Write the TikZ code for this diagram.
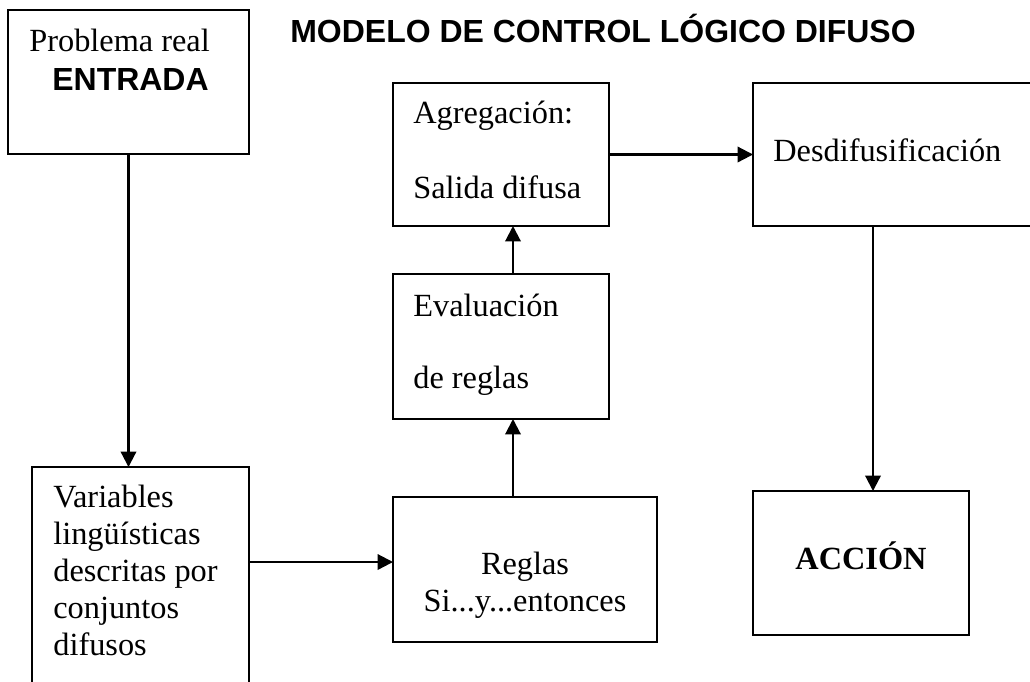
\documentclass[tikz,border=0pt]{standalone}
\usepackage{fontspec}
\setmainfont{Liberation Serif}
\setsansfont{Liberation Sans}
\usetikzlibrary{arrows.meta}

\tikzset{
    caja/.style={draw, line width=1.3pt, inner sep=0pt, outer sep=0pt},
    txt/.style={inner sep=0pt, font=\fontsize{18.4}{21}\selectfont},
    flecha/.style={line width=1.2pt, -{Triangle[length=8.8pt,width=8.8pt]}}
}

\begin{document}
\begin{tikzpicture}[x=0.02cm, y=-0.02cm]
                \useasboundingbox (0,0) rectangle (1030,681);
                \clip (0,0) rectangle (1030,681);

                \node[caja, minimum width=4.82cm, minimum height=2.88cm] (prob) at (128.5,82) {};
                \node[caja, minimum width=4.32cm, minimum height=2.86cm] (agre) at (501,154.5) {};
                \node[caja, minimum width=5.84cm, minimum height=2.86cm] (desd) at (899,154.5) {};
                \node[caja, minimum width=4.32cm, minimum height=2.90cm] (eval) at (501,346.5) {};
                \node[caja, minimum width=4.34cm, minimum height=4.66cm] (vari) at (140.5,583.5) {};
                \node[caja, minimum width=5.28cm, minimum height=2.90cm] (regl) at (525,569.5) {};
                \node[caja, minimum width=4.32cm, minimum height=2.88cm] (acci) at (861,563) {};

                \node[txt, anchor=base west, font=\fontsize{18.2}{21}\selectfont\sffamily\bfseries] (titulo) at (290,42) {MODELO DE CONTROL LÓGICO DIFUSO};

                \node[txt, anchor=base west] (prob1) at (29,51) {Problema real};
                \node[txt, anchor=base west, font=\fontsize{18.2}{21}\selectfont\sffamily\bfseries] (prob2) at (52,90) {ENTRADA};

                \node[txt, anchor=base west] (agre1) at (413,123) {Agregación:};
                \node[txt, anchor=base west] (agre2) at (413,198) {Salida difusa};

                \node[txt, anchor=base west] (desd1) at (773,161) {Desdifusificación};

                \node[txt, anchor=base west] (eval1) at (413,316) {Evaluación};
                \node[txt, anchor=base west] (eval2) at (413,388) {de reglas};

                \foreach \linea [count=\i from 0] in {Variables, lingüísticas, descritas por, conjuntos, difusos}
                    \node[txt, anchor=base west] (vari\i) at (53,{507+37*\i}) {\linea};

                \node[txt, anchor=base] (regl1) at (525,574) {Reglas};
                \node[txt, anchor=base] (regl2) at (525,611) {Si...y...entonces};

                \node[txt, anchor=base, font=\fontsize{18.4}{21}\selectfont\bfseries] (acci1) at (861,569) {ACCIÓN};

                \draw[flecha] (prob.south) -- (prob.south |- vari.north);
                \draw[flecha] ([yshift=0.15cm]vari.east |- regl.west) -- ([yshift=0.15cm]regl.west);
                \draw[flecha] ([xshift=0.24cm]eval.south |- regl.north) -- ([xshift=0.24cm]eval.south);
                \draw[flecha] ([xshift=0.24cm]agre.south |- eval.north) -- ([xshift=0.24cm]agre.south);
                \draw[flecha] (agre.east) -- (desd.west);
                \draw[flecha] ([xshift=0.24cm]acci.north |- desd.south) -- ([xshift=0.24cm]acci.north);
            \end{tikzpicture}
\end{document}
